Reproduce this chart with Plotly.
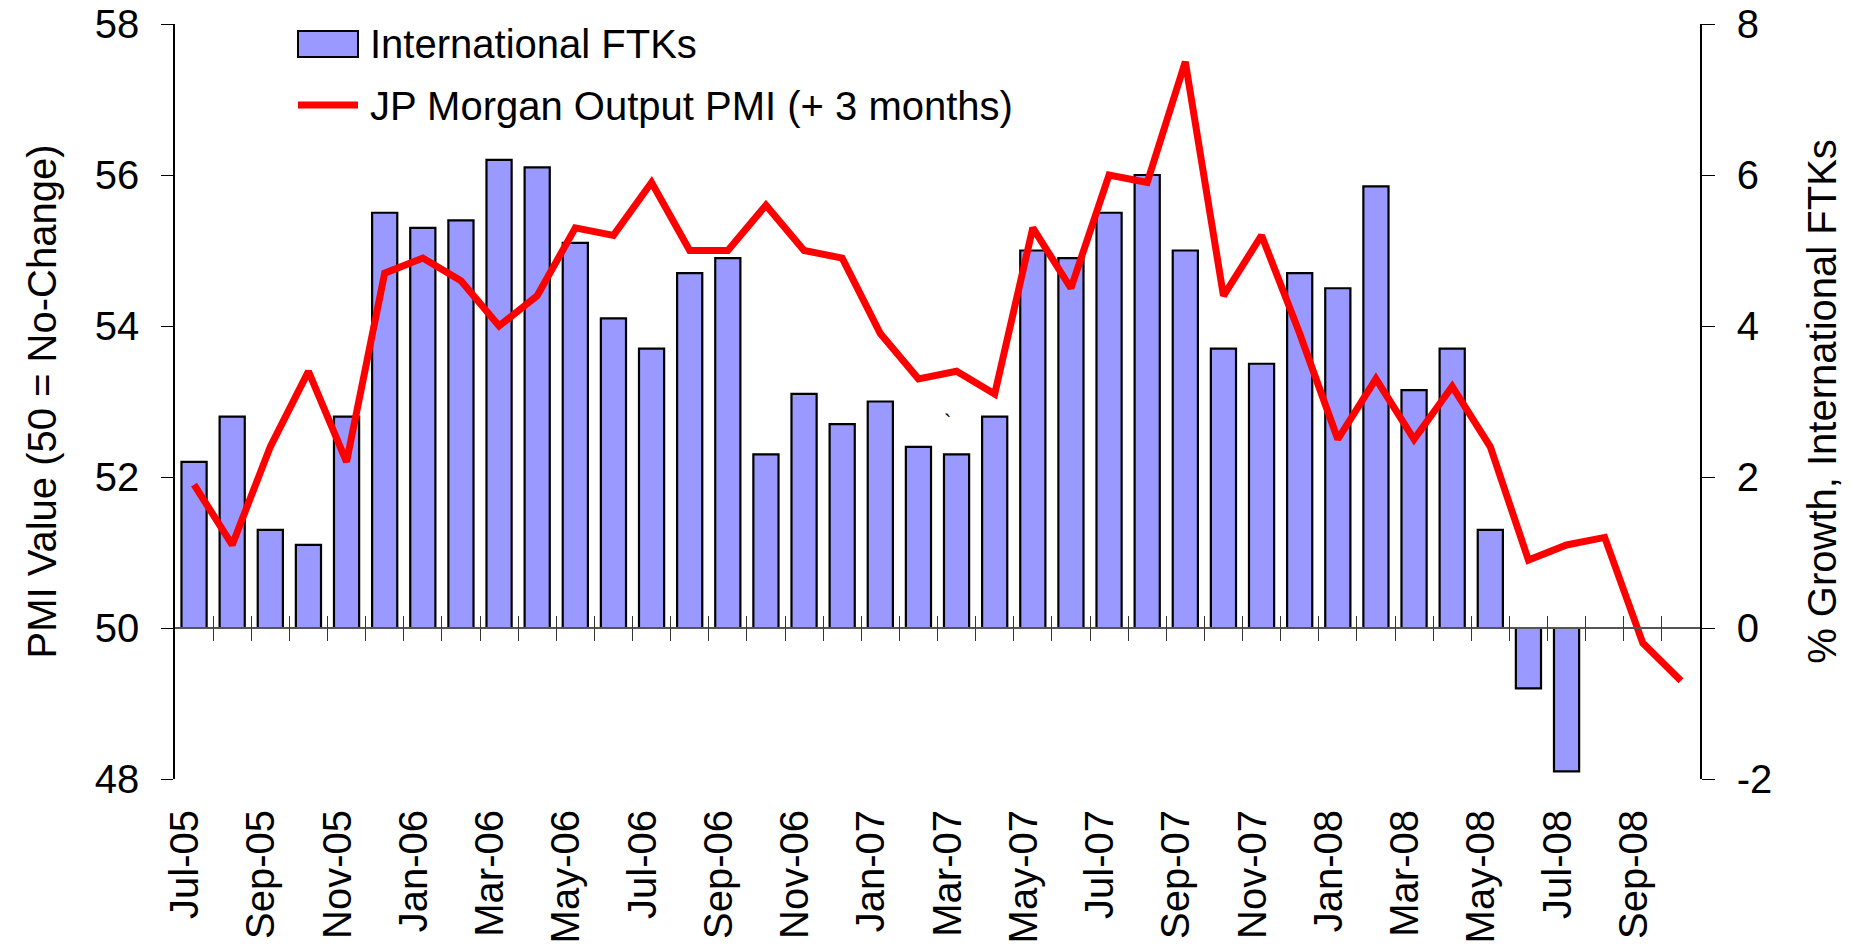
import plotly.graph_objects as go

months = ["Jul-05", "Aug-05", "Sep-05", "Oct-05", "Nov-05", "Dec-05",
          "Jan-06", "Feb-06", "Mar-06", "Apr-06", "May-06", "Jun-06",
          "Jul-06", "Aug-06", "Sep-06", "Oct-06", "Nov-06", "Dec-06",
          "Jan-07", "Feb-07", "Mar-07", "Apr-07", "May-07", "Jun-07",
          "Jul-07", "Aug-07", "Sep-07", "Oct-07", "Nov-07", "Dec-07",
          "Jan-08", "Feb-08", "Mar-08", "Apr-08", "May-08", "Jun-08",
          "Jul-08", "Aug-08", "Sep-08", "Oct-08"]

# % growth, international FTKs (right axis)
ftk_growth = [2.2, 2.8, 1.3, 1.1, 2.8, 5.5,
              5.3, 5.4, 6.2, 6.1, 5.1, 4.1,
              3.7, 4.7, 4.9, 2.3, 3.1, 2.7,
              3.0, 2.4, 2.3, 2.8, 5.0, 4.9,
              5.5, 6.0, 5.0, 3.7, 3.5, 4.7,
              4.5, 5.85, 3.15, 3.7, 1.3, -0.8,
              -1.9, None, None, None]

# JP Morgan Output PMI, advanced 3 months (left axis)
pmi = [51.9, 51.1, 52.4, 53.4, 52.2, 54.7,
       54.9, 54.6, 54.0, 54.4, 55.3, 55.2,
       55.9, 55.0, 55.0, 55.6, 55.0, 54.9,
       53.9, 53.3, 53.4, 53.1, 55.3, 54.5,
       56.0, 55.9, 57.5, 54.4, 55.2, 53.9,
       52.5, 53.3, 52.5, 53.2, 52.4, 50.9,
       51.1, 51.2, 49.8, 49.3]

tick_labels = months[::2]

left_ticks = [48, 50, 52, 54, 56, 58]
right_ticks = [-2, 0, 2, 4, 6, 8]
left_range = [left_ticks[0], left_ticks[-1]]
right_range = [right_ticks[0], right_ticks[-1]]

bar_name = "International FTKs"
line_name = "JP Morgan Output PMI (+ 3 months)"

FONT = "Liberation Sans, Arial, sans-serif"
W, H = 1854, 946
ML, MR, MT, MB = 175, 154, 24, 167
PW, PH = W - ML - MR, H - MT - MB


def px_x(p):
    return (p - ML) / PW


def px_y(p):
    return 1 - (p - MT) / PH


n = len(months)
zero_pos = (0 - right_range[0]) / (right_range[1] - right_range[0])
boundaries = [i + 0.5 for i in range(n - 1)]

fig = go.Figure()
fig.add_trace(go.Bar(
    x=months, y=ftk_growth, name=bar_name,
    marker=dict(color="#9999FF", line=dict(color="black", width=2.2)),
    xaxis="x", yaxis="y", showlegend=False,
))
fig.add_trace(go.Scatter(
    x=months, y=pmi, name=line_name, mode="lines",
    line=dict(color="#FF0000", width=7),
    xaxis="x", yaxis="y2", showlegend=False,
))
# empty helper traces so the zero-line tick axes get drawn
for ax in ("x2", "x3"):
    fig.add_trace(go.Scatter(x=[], y=[], xaxis=ax, yaxis="y", mode="lines",
                             showlegend=False, hoverinfo="skip"))

axis_font = dict(family=FONT, size=40, color="black")

fig.update_layout(
    width=W, height=H,
    margin=dict(l=ML, r=MR, t=MT, b=MB, autoexpand=False),
    paper_bgcolor="white", plot_bgcolor="white",
    font=axis_font,
    bargap=0.34,
    xaxis=dict(
        type="category", categoryorder="array", categoryarray=months,
        range=[-0.5, n - 0.5],
        tickvals=tick_labels, ticktext=tick_labels,
        tickangle=-90, ticks="", showline=False, showgrid=False,
        zeroline=False, tickfont=axis_font, ticklabelstandoff=22,
        ticklabelshift=-9, automargin=False,
    ),
    xaxis2=dict(
        overlaying="x", anchor="free", position=zero_pos,
        range=[-0.5, n - 0.5], type="linear",
        tickvals=boundaries, ticks="outside", ticklen=12, tickwidth=1.2,
        tickcolor="#333333", showticklabels=False,
        showline=True, linecolor="#555555", linewidth=2,
        showgrid=False, zeroline=False,
    ),
    xaxis3=dict(
        overlaying="x", anchor="free", position=zero_pos,
        range=[-0.5, n - 0.5], type="linear",
        tickvals=boundaries, ticks="inside", ticklen=12, tickwidth=1.2,
        tickcolor="#333333", showticklabels=False,
        showline=False, showgrid=False, zeroline=False,
    ),
    yaxis=dict(
        side="right", range=right_range,
        tickvals=right_ticks, ticktext=[str(v) for v in right_ticks],
        ticks="outside", ticklen=13, tickwidth=1.2, tickcolor="black",
        showline=True, linecolor="black", linewidth=1.5,
        showgrid=False, zeroline=False,
        tickfont=axis_font, ticklabelstandoff=14,
        title=dict(text="% Growth, International FTKs", font=axis_font, standoff=37),
        automargin=False,
    ),
    yaxis2=dict(
        overlaying="y", side="left", range=left_range,
        tickvals=left_ticks, ticktext=[str(v) for v in left_ticks],
        ticks="outside", ticklen=12, tickwidth=1.2, tickcolor="black",
        showline=True, linecolor="black", linewidth=1.5,
        showgrid=False, zeroline=False,
        tickfont=axis_font, ticklabelstandoff=14,
        title=dict(text="PMI Value (50 = No-Change)", font=axis_font, standoff=26),
        automargin=False,
    ),
    yaxis3=dict(
        overlaying="y", side="left", range=left_range,
        tickvals=left_ticks,
        ticks="inside", ticklen=12, tickwidth=1.2, tickcolor="black",
        showticklabels=False, showline=False, showgrid=False, zeroline=False,
    ),
)

# legend (drawn as shapes + text)
fig.add_shape(type="rect", xref="paper", yref="paper",
              x0=px_x(298), x1=px_x(358), y0=px_y(57), y1=px_y(31),
              fillcolor="#9999FF", line=dict(color="black", width=2))
fig.add_shape(type="line", xref="paper", yref="paper",
              x0=px_x(298), x1=px_x(358), y0=px_y(105), y1=px_y(105),
              line=dict(color="#FF0000", width=7))
fig.add_annotation(text=bar_name, xref="paper", yref="paper",
                   x=px_x(368), y=px_y(44), xanchor="left", yanchor="middle",
                   showarrow=False, font=axis_font)
fig.add_annotation(text=line_name, xref="paper", yref="paper",
                   x=px_x(368), y=px_y(106), xanchor="left", yanchor="middle",
                   showarrow=False, font=axis_font)

# stray mark present in the original
fig.add_annotation(text="`", xref="x", yref="y2", x=19.75, y=52.72,
                   showarrow=False, font=dict(family=FONT, size=22, color="black"))

fig.write_html("out.html",
               config={"displayModeBar": False},
               post_script="document.body.style.margin='0';"
                           "document.body.style.overflow='hidden';")
